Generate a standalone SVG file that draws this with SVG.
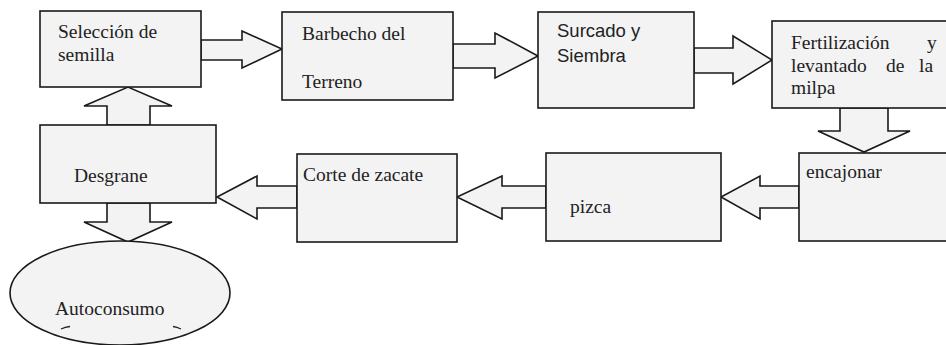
<svg xmlns="http://www.w3.org/2000/svg" width="946" height="345" viewBox="0 0 946 345">
<style>
.n{fill:#f3f3f3;stroke:#1a1a1a;stroke-width:1.6}
.a{fill:#f3f3f3;stroke:#1a1a1a;stroke-width:1.6;stroke-linejoin:miter}
.t{font-family:"Liberation Serif","Times New Roman",serif;font-size:19.5px;fill:#222}
.s{font-family:"Liberation Sans",Arial,sans-serif;font-size:18.5px;fill:#222}
</style>
<rect width="946" height="345" fill="#ffffff"/>
<g id="connectors">
<polygon class="a" points="201,40 242,40 242,31 282,49 242,68 242,60 201,60"/>
<polygon class="a" points="453,44 495,44 495,33 538,56 495,78 495,68 453,68"/>
<polygon class="a" points="694,48 733,48 733,36 772,60 733,84 733,73 694,73"/>
<polygon class="a" points="840,108 840,131 818,131 864,152 910,131 888,131 888,108"/>
<polygon class="a" points="799,186 760,186 760,176 721,197 760,219 760,208 799,208"/>
<polygon class="a" points="546,186 502,186 502,176 457,197 502,219 502,208 546,208"/>
<polygon class="a" points="297,186 257,186 257,176 217,197 257,219 257,208 297,208"/>
<polygon class="a" points="107,125 107,106 84,106 128,87 172,106 150,106 150,125"/>
<polygon class="a" points="107,203 107,222 84,222 128,242 172,222 150,222 150,203"/>
</g>
<g id="seleccion">
<rect class="n" x="40" y="11" width="161" height="76"/>
<text class="t" x="58" y="38">Selección de</text>
<text class="t" x="58" y="61">semilla</text>
</g>
<g id="barbecho">
<rect class="n" x="282" y="12" width="171" height="88"/>
<text class="t" x="302" y="40">Barbecho del</text>
<text class="t" x="302" y="88">Terreno</text>
</g>
<g id="surcado">
<rect class="n" x="538" y="12" width="156" height="96"/>
<text class="s" x="557" y="37">Surcado y</text>
<text class="s" x="557" y="62">Siembra</text>
</g>
<g id="fertilizacion">
<rect class="n" x="772" y="21" width="180" height="87"/>
<text class="t" x="791" y="49">Fertilización</text>
<text class="t" x="927" y="49">y</text>
<text class="t" x="791" y="72">levantado</text>
<text class="t" x="886" y="72">de</text>
<text class="t" x="919" y="72">la</text>
<text class="t" x="791" y="94">milpa</text>
</g>
<g id="encajonar">
<rect class="n" x="799" y="153" width="153" height="88"/>
<text class="t" x="806" y="178">encajonar</text>
</g>
<g id="pizca">
<rect class="n" x="546" y="153" width="175" height="88"/>
<text class="t" x="570" y="213">pizca</text>
</g>
<g id="corte">
<rect class="n" x="297" y="154" width="160" height="88"/>
<text class="t" x="303" y="181">Corte de zacate</text>
</g>
<g id="desgrane">
<rect class="n" x="40" y="125" width="176" height="78"/>
<text class="t" x="74" y="182">Desgrane</text>
</g>
<g id="autoconsumo">
<ellipse class="n" cx="120" cy="293" rx="110" ry="52"/>
<text class="t" x="55" y="315">Autoconsumo</text>
<path d="M61,329 Q65,327 70,326.5" fill="none" stroke="#222" stroke-width="1.3"/>
<path d="M173,326.5 Q177,327 181,329" fill="none" stroke="#222" stroke-width="1.3"/>
</g>
</svg>
